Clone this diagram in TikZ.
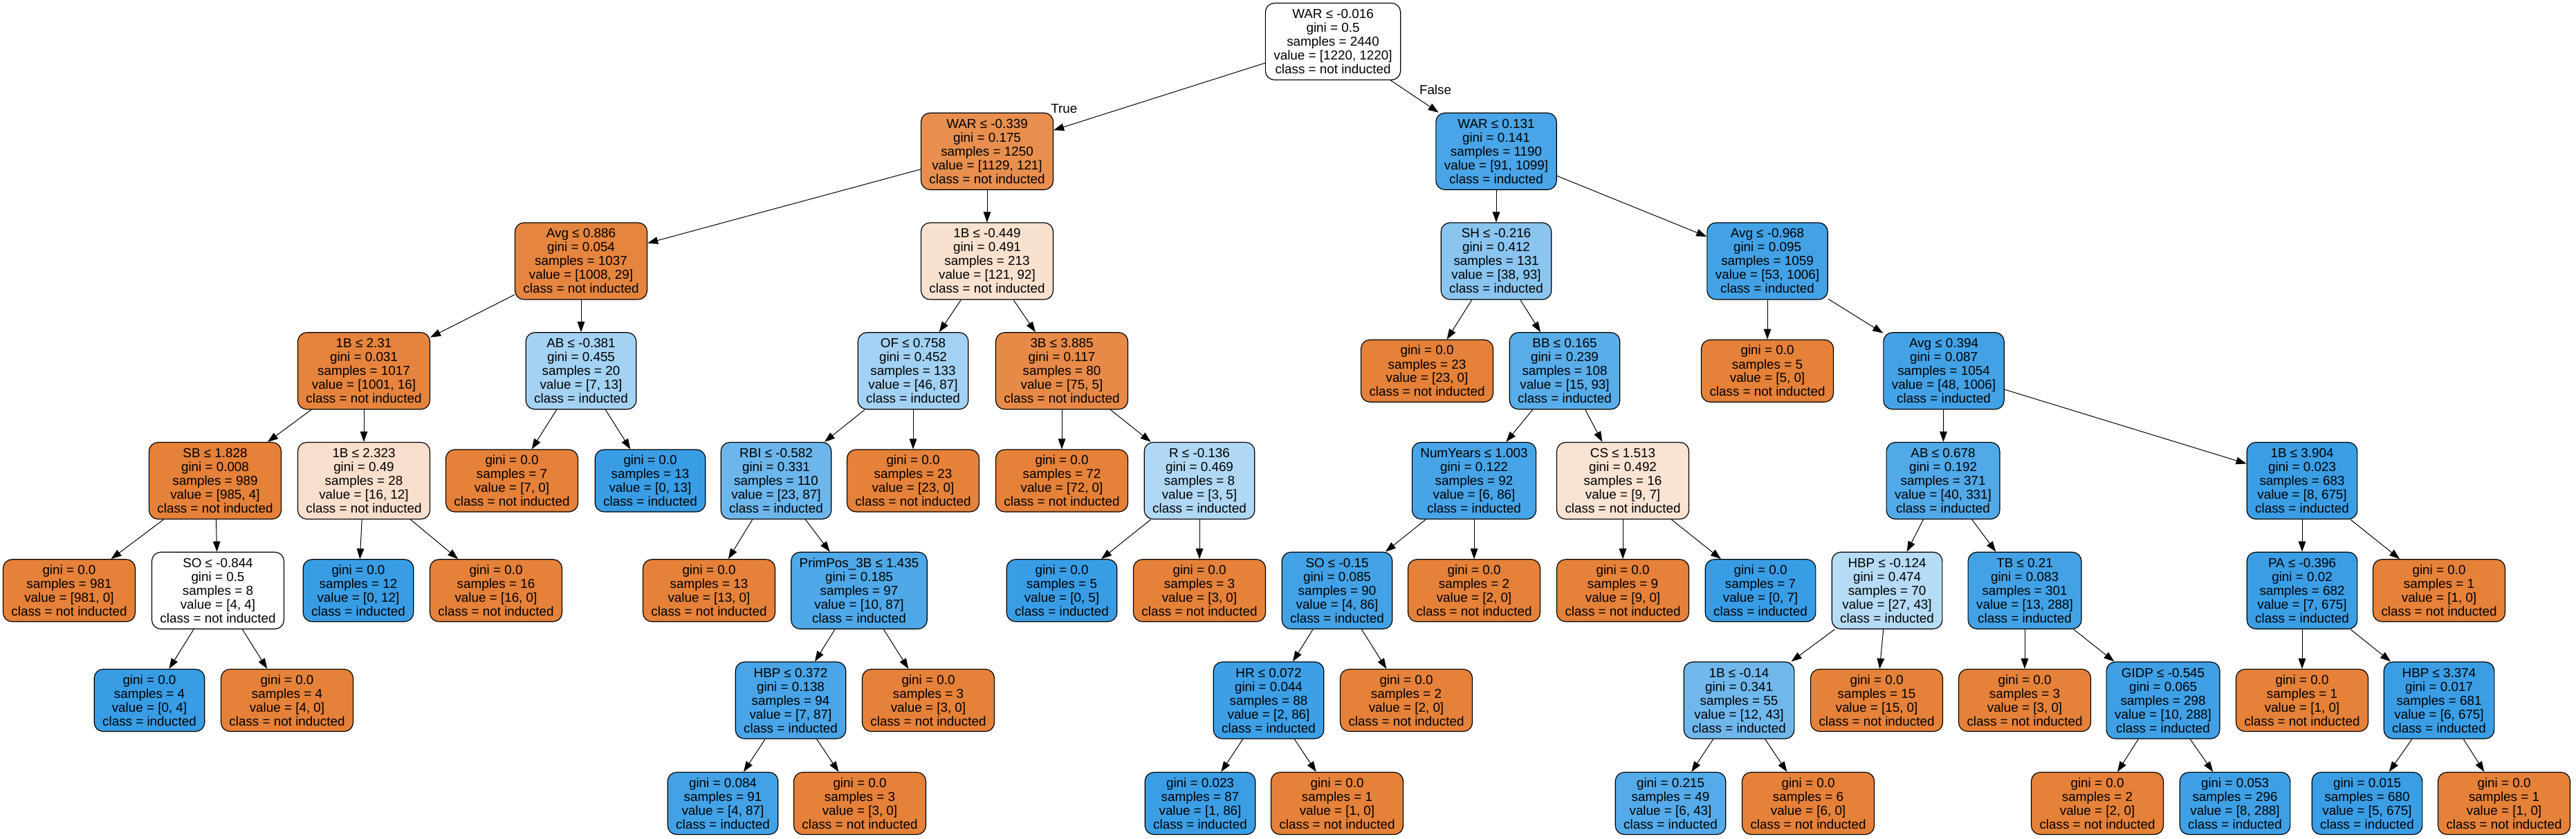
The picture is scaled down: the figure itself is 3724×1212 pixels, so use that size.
\documentclass[tikz,border=0pt]{standalone}
\usepackage{fontspec}
\setmainfont{Liberation Sans}
\usepackage{tikz}
\usetikzlibrary{arrows.meta,positioning}
\usepackage{xcolor}
\definecolor{notind}{HTML}{E58139}
\definecolor{ind}{HTML}{399DE5}

\begin{document}
\begin{tikzpicture}[
    x=0.5pt, y=-0.5pt,
    split/.style={rectangle, draw, line width=0.6pt, rounded corners=6.5pt, align=center,
        inner xsep=6pt, inner ysep=0pt, minimum height=55.5pt, font=\fontsize{9.42}{10}\selectfont},
    leaf/.style={split, minimum height=45pt},
    link/.style={-{Triangle[length=7.5pt,width=5.3pt]}, line width=0.5pt},
    branch/.style={inner sep=0pt, font=\fontsize{9.42}{10}\selectfont}
]
    \path[use as bounding box, fill=white] (0,0) rectangle (3724,1212);

    % level 0
    \node[split, fill=white] (root) at (1927,60) {WAR ≤ -0.016\\gini = 0.5\\samples = 2440\\value = [1220, 1220]\\class = not inducted};

    % level 1
    \node[split, fill=notind!89!white] (war1) at (1427,218.75) {WAR ≤ -0.339\\gini = 0.175\\samples = 1250\\value = [1129, 121]\\class = not inducted};
    \node[split, fill=ind!92!white] (war2) at (2163,218.75) {WAR ≤ 0.131\\gini = 0.141\\samples = 1190\\value = [91, 1099]\\class = inducted};

    % level 2
    \node[split, fill=notind!97!white] (avg1) at (840,377.5) {Avg ≤ 0.886\\gini = 0.054\\samples = 1037\\value = [1008, 29]\\class = not inducted};
    \node[split, fill=notind!24!white] (b1) at (1427,377.5) {1B ≤ -0.449\\gini = 0.491\\samples = 213\\value = [121, 92]\\class = not inducted};
    \node[split, fill=ind!59!white] (sh) at (2163,377.5) {SH ≤ -0.216\\gini = 0.412\\samples = 131\\value = [38, 93]\\class = inducted};
    \node[split, fill=ind!95!white] (avg2) at (2555,377.5) {Avg ≤ -0.968\\gini = 0.095\\samples = 1059\\value = [53, 1006]\\class = inducted};

    % level 3
    \node[split, fill=notind!98!white] (b2) at (526,536.25) {1B ≤ 2.31\\gini = 0.031\\samples = 1017\\value = [1001, 16]\\class = not inducted};
    \node[split, fill=ind!46!white] (ab1) at (840,536.25) {AB ≤ -0.381\\gini = 0.455\\samples = 20\\value = [7, 13]\\class = inducted};
    \node[split, fill=ind!47!white] (of) at (1320,536.25) {OF ≤ 0.758\\gini = 0.452\\samples = 133\\value = [46, 87]\\class = inducted};
    \node[split, fill=notind!93!white] (b3) at (1535,536.25) {3B ≤ 3.885\\gini = 0.117\\samples = 80\\value = [75, 5]\\class = not inducted};
    \node[leaf, fill=notind] (l3a) at (2063,536.25) {gini = 0.0\\samples = 23\\value = [23, 0]\\class = not inducted};
    \node[split, fill=ind!84!white] (bb) at (2262,536.25) {BB ≤ 0.165\\gini = 0.239\\samples = 108\\value = [15, 93]\\class = inducted};
    \node[leaf, fill=notind] (l3b) at (2555,536.25) {gini = 0.0\\samples = 5\\value = [5, 0]\\class = not inducted};
    \node[split, fill=ind!95!white] (avg3) at (2810,536.25) {Avg ≤ 0.394\\gini = 0.087\\samples = 1054\\value = [48, 1006]\\class = inducted};

    % level 4
    \node[split, fill=notind] (sb) at (311,695) {SB ≤ 1.828\\gini = 0.008\\samples = 989\\value = [985, 4]\\class = not inducted};
    \node[split, fill=notind!25!white] (b4) at (526,695) {1B ≤ 2.323\\gini = 0.49\\samples = 28\\value = [16, 12]\\class = not inducted};
    \node[leaf, fill=notind] (l4a) at (740,695) {gini = 0.0\\samples = 7\\value = [7, 0]\\class = not inducted};
    \node[leaf, fill=ind] (l4b) at (940,695) {gini = 0.0\\samples = 13\\value = [0, 13]\\class = inducted};
    \node[split, fill=ind!74!white] (rbi) at (1122,695) {RBI ≤ -0.582\\gini = 0.331\\samples = 110\\value = [23, 87]\\class = inducted};
    \node[leaf, fill=notind] (l4c) at (1320,695) {gini = 0.0\\samples = 23\\value = [23, 0]\\class = not inducted};
    \node[leaf, fill=notind] (l4d) at (1535,695) {gini = 0.0\\samples = 72\\value = [72, 0]\\class = not inducted};
    \node[split, fill=ind!40!white] (r) at (1734,695) {R ≤ -0.136\\gini = 0.469\\samples = 8\\value = [3, 5]\\class = inducted};
    \node[split, fill=ind!93!white] (num) at (2131,695) {NumYears ≤ 1.003\\gini = 0.122\\samples = 92\\value = [6, 86]\\class = inducted};
    \node[split, fill=notind!22!white] (cs) at (2346,695) {CS ≤ 1.513\\gini = 0.492\\samples = 16\\value = [9, 7]\\class = not inducted};
    \node[split, fill=ind!88!white] (ab2) at (2809,695) {AB ≤ 0.678\\gini = 0.192\\samples = 371\\value = [40, 331]\\class = inducted};
    \node[split, fill=ind!99!white] (b5) at (3328,695) {1B ≤ 3.904\\gini = 0.023\\samples = 683\\value = [8, 675]\\class = inducted};

    % level 5
    \node[leaf, fill=notind] (l5a) at (100,853.75) {gini = 0.0\\samples = 981\\value = [981, 0]\\class = not inducted};
    \node[split, fill=white] (so1) at (315,853.75) {SO ≤ -0.844\\gini = 0.5\\samples = 8\\value = [4, 4]\\class = not inducted};
    \node[leaf, fill=ind] (l5b) at (518,853.75) {gini = 0.0\\samples = 12\\value = [0, 12]\\class = inducted};
    \node[leaf, fill=notind] (l5c) at (717,853.75) {gini = 0.0\\samples = 16\\value = [16, 0]\\class = not inducted};
    \node[leaf, fill=notind] (l5d) at (1025,853.75) {gini = 0.0\\samples = 13\\value = [13, 0]\\class = not inducted};
    \node[split, fill=ind!89!white] (pp) at (1242,853.75) {PrimPos\_3B ≤ 1.435\\gini = 0.185\\samples = 97\\value = [10, 87]\\class = inducted};
    \node[leaf, fill=ind] (l5e) at (1535,853.75) {gini = 0.0\\samples = 5\\value = [0, 5]\\class = inducted};
    \node[leaf, fill=notind] (l5f) at (1734,853.75) {gini = 0.0\\samples = 3\\value = [3, 0]\\class = not inducted};
    \node[split, fill=ind!95!white] (so2) at (1933,853.75) {SO ≤ -0.15\\gini = 0.085\\samples = 90\\value = [4, 86]\\class = inducted};
    \node[leaf, fill=notind] (l5g) at (2131,853.75) {gini = 0.0\\samples = 2\\value = [2, 0]\\class = not inducted};
    \node[leaf, fill=notind] (l5h) at (2346,853.75) {gini = 0.0\\samples = 9\\value = [9, 0]\\class = not inducted};
    \node[leaf, fill=ind] (l5i) at (2545,853.75) {gini = 0.0\\samples = 7\\value = [0, 7]\\class = inducted};
    \node[split, fill=ind!37!white] (hbp1) at (2728,853.75) {HBP ≤ -0.124\\gini = 0.474\\samples = 70\\value = [27, 43]\\class = inducted};
    \node[split, fill=ind!95!white] (tb) at (2927,853.75) {TB ≤ 0.21\\gini = 0.083\\samples = 301\\value = [13, 288]\\class = inducted};
    \node[split, fill=ind!99!white] (pa) at (3328,853.75) {PA ≤ -0.396\\gini = 0.02\\samples = 682\\value = [7, 675]\\class = inducted};
    \node[leaf, fill=notind] (l5j) at (3526,853.75) {gini = 0.0\\samples = 1\\value = [1, 0]\\class = not inducted};

    % level 6
    \node[leaf, fill=ind] (l6a) at (216,1012.5) {gini = 0.0\\samples = 4\\value = [0, 4]\\class = inducted};
    \node[leaf, fill=notind] (l6b) at (415,1012.5) {gini = 0.0\\samples = 4\\value = [4, 0]\\class = not inducted};
    \node[split, fill=ind!92!white] (hbp2) at (1143,1012.5) {HBP ≤ 0.372\\gini = 0.138\\samples = 94\\value = [7, 87]\\class = inducted};
    \node[leaf, fill=notind] (l6c) at (1342,1012.5) {gini = 0.0\\samples = 3\\value = [3, 0]\\class = not inducted};
    \node[split, fill=ind!98!white] (hr) at (1834,1012.5) {HR ≤ 0.072\\gini = 0.044\\samples = 88\\value = [2, 86]\\class = inducted};
    \node[leaf, fill=notind] (l6d) at (2033,1012.5) {gini = 0.0\\samples = 2\\value = [2, 0]\\class = not inducted};
    \node[split, fill=ind!72!white] (b6) at (2514,1012.5) {1B ≤ -0.14\\gini = 0.341\\samples = 55\\value = [12, 43]\\class = inducted};
    \node[leaf, fill=notind] (l6e) at (2713,1012.5) {gini = 0.0\\samples = 15\\value = [15, 0]\\class = not inducted};
    \node[leaf, fill=notind] (l6f) at (2927,1012.5) {gini = 0.0\\samples = 3\\value = [3, 0]\\class = not inducted};
    \node[split, fill=ind!97!white] (gidp) at (3127,1012.5) {GIDP ≤ -0.545\\gini = 0.065\\samples = 298\\value = [10, 288]\\class = inducted};
    \node[leaf, fill=notind] (l6g) at (3328,1012.5) {gini = 0.0\\samples = 1\\value = [1, 0]\\class = not inducted};
    \node[split, fill=ind!99!white] (hbp3) at (3526,1012.5) {HBP ≤ 3.374\\gini = 0.017\\samples = 681\\value = [6, 675]\\class = inducted};

    % level 7
    \node[leaf, fill=ind!95!white] (l7a) at (1045,1161.5) {gini = 0.084\\samples = 91\\value = [4, 87]\\class = inducted};
    \node[leaf, fill=notind] (l7b) at (1243,1161.5) {gini = 0.0\\samples = 3\\value = [3, 0]\\class = not inducted};
    \node[leaf, fill=ind!99!white] (l7c) at (1735,1161.5) {gini = 0.023\\samples = 87\\value = [1, 86]\\class = inducted};
    \node[leaf, fill=notind] (l7d) at (1933,1161.5) {gini = 0.0\\samples = 1\\value = [1, 0]\\class = not inducted};
    \node[leaf, fill=ind!86!white] (l7e) at (2415,1161.5) {gini = 0.215\\samples = 49\\value = [6, 43]\\class = inducted};
    \node[leaf, fill=notind] (l7f) at (2614,1161.5) {gini = 0.0\\samples = 6\\value = [6, 0]\\class = not inducted};
    \node[leaf, fill=notind] (l7g) at (3032,1161.5) {gini = 0.0\\samples = 2\\value = [2, 0]\\class = not inducted};
    \node[leaf, fill=ind!97!white] (l7h) at (3231,1161.5) {gini = 0.053\\samples = 296\\value = [8, 288]\\class = inducted};
    \node[leaf, fill=ind!99!white] (l7i) at (3422,1161.5) {gini = 0.015\\samples = 680\\value = [5, 675]\\class = inducted};
    \node[leaf, fill=notind] (l7j) at (3620,1161.5) {gini = 0.0\\samples = 1\\value = [1, 0]\\class = not inducted};

    % branches
    \draw[link] (root) -- node[branch, pos=0.95, above=9.5pt] {True} (war1);
    \draw[link] (root) -- node[branch, pos=0.29, right=10.5pt] {False} (war2);
    \draw[link] (war1) -- (avg1);
    \draw[link] (war1) -- (b1);
    \draw[link] (war2) -- (sh);
    \draw[link] (war2) -- (avg2);
    \draw[link] (avg1) -- (b2);
    \draw[link] (avg1) -- (ab1);
    \draw[link] (b1) -- (of);
    \draw[link] (b1) -- (b3);
    \draw[link] (sh) -- (l3a);
    \draw[link] (sh) -- (bb);
    \draw[link] (avg2) -- (l3b);
    \draw[link] (avg2) -- (avg3);
    \draw[link] (b2) -- (sb);
    \draw[link] (b2) -- (b4);
    \draw[link] (ab1) -- (l4a);
    \draw[link] (ab1) -- (l4b);
    \draw[link] (of) -- (rbi);
    \draw[link] (of) -- (l4c);
    \draw[link] (b3) -- (l4d);
    \draw[link] (b3) -- (r);
    \draw[link] (bb) -- (num);
    \draw[link] (bb) -- (cs);
    \draw[link] (avg3) -- (ab2);
    \draw[link] (avg3) -- (b5);
    \draw[link] (sb) -- (l5a);
    \draw[link] (sb) -- (so1);
    \draw[link] (b4) -- (l5b);
    \draw[link] (b4) -- (l5c);
    \draw[link] (rbi) -- (l5d);
    \draw[link] (rbi) -- (pp);
    \draw[link] (r) -- (l5e);
    \draw[link] (r) -- (l5f);
    \draw[link] (num) -- (so2);
    \draw[link] (num) -- (l5g);
    \draw[link] (cs) -- (l5h);
    \draw[link] (cs) -- (l5i);
    \draw[link] (ab2) -- (hbp1);
    \draw[link] (ab2) -- (tb);
    \draw[link] (b5) -- (pa);
    \draw[link] (b5) -- (l5j);
    \draw[link] (so1) -- (l6a);
    \draw[link] (so1) -- (l6b);
    \draw[link] (pp) -- (hbp2);
    \draw[link] (pp) -- (l6c);
    \draw[link] (so2) -- (hr);
    \draw[link] (so2) -- (l6d);
    \draw[link] (hbp1) -- (b6);
    \draw[link] (hbp1) -- (l6e);
    \draw[link] (tb) -- (l6f);
    \draw[link] (tb) -- (gidp);
    \draw[link] (pa) -- (l6g);
    \draw[link] (pa) -- (hbp3);
    \draw[link] (hbp2) -- (l7a);
    \draw[link] (hbp2) -- (l7b);
    \draw[link] (hr) -- (l7c);
    \draw[link] (hr) -- (l7d);
    \draw[link] (b6) -- (l7e);
    \draw[link] (b6) -- (l7f);
    \draw[link] (gidp) -- (l7g);
    \draw[link] (gidp) -- (l7h);
    \draw[link] (hbp3) -- (l7i);
    \draw[link] (hbp3) -- (l7j);
\end{tikzpicture}
\end{document}
